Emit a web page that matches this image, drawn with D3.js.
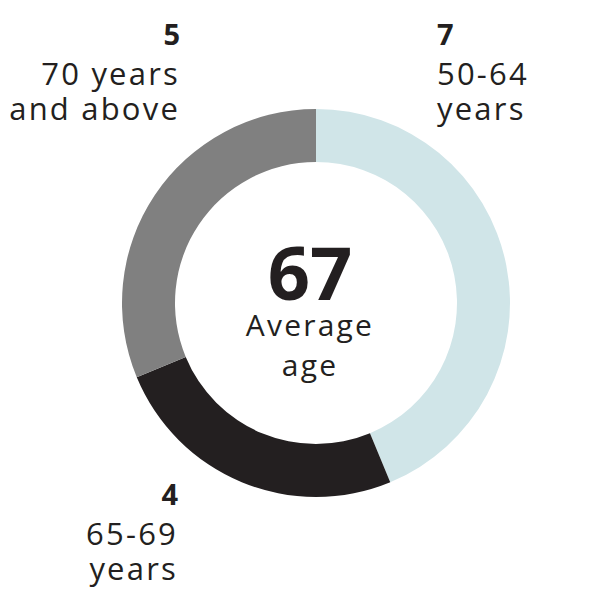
<!DOCTYPE html>
<html><head><meta charset="utf-8">
<script src="https://cdn.jsdelivr.net/npm/d3@7"></script>
<style>body{margin:0;background:#fff}text{font-family:"Open Sans",Lato,sans-serif;fill:#231f20}</style>
</head><body>
<svg id="c" width="591" height="605"></svg>
<script>
const categories = ["50-64 years", "65-69 years", "70 years and above"];
const values = [7, 4, 5];
const colors = ["#d0e5e8", "#231f20", "#808080"];
const labelLines = [["50-64","years"],["65-69","years"],["70 years","and above"]];
const centerValue = "67";
const centerLabel = ["Average","age"];

const svg = d3.select("#c");
const cx = 316, cy = 303, R = 194, r = 141;
const pie = d3.pie().sort(null).value(d => d)(values);
const arc = d3.arc().innerRadius(r).outerRadius(R);
const g = svg.append("g").attr("transform", `translate(${cx},${cy})`);
g.selectAll("path").data(pie).join("path").attr("d", arc).attr("fill", (d,i) => colors[i]);

g.append("text").attr("text-anchor","middle").attr("x",-6).attr("y",-3).attr("font-size",74).attr("font-weight",700).text(centerValue);
centerLabel.forEach((t,i)=>g.append("text").attr("text-anchor","middle").attr("x",-6).attr("y",33+i*40).attr("font-size",30).attr("letter-spacing",2.2).text(t));

const pos = [{x:437,y:45,a:"start"},{x:178,y:505,a:"end"},{x:180,y:45,a:"end"}];
pos.forEach((p,i)=>{
  svg.append("text").attr("x",p.x).attr("y",p.y).attr("text-anchor",p.a).attr("font-size",29).attr("font-weight",700).text(values[i]);
  labelLines[i].forEach((t,j)=>svg.append("text").attr("x",p.x).attr("y",p.y+40+j*35).attr("text-anchor",p.a).attr("font-size",31).attr("letter-spacing",2.2).text(t));
});
</script></body></html>
